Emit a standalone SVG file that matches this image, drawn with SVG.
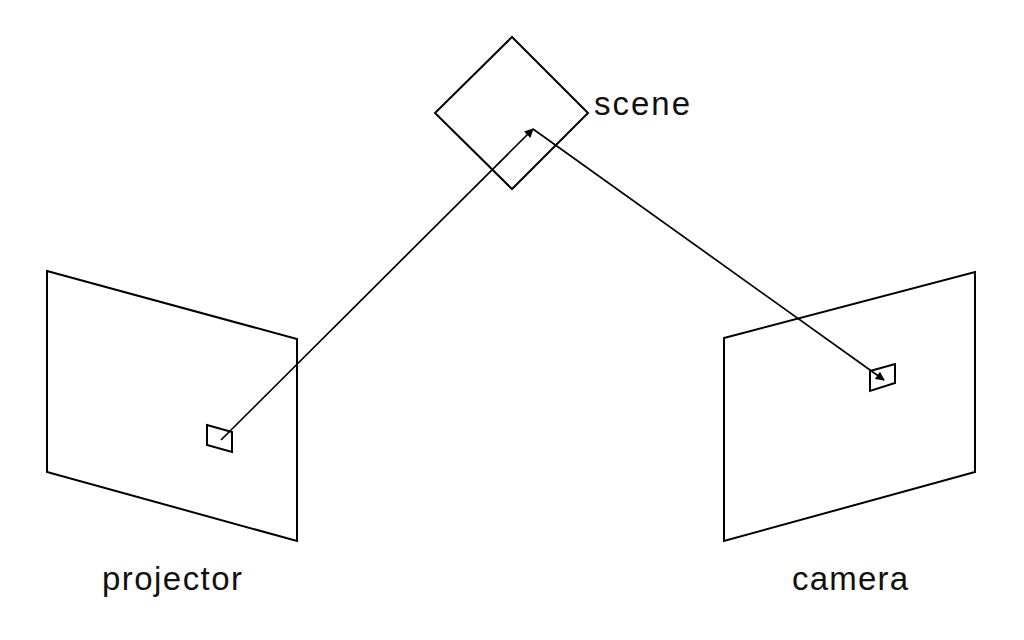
<svg xmlns="http://www.w3.org/2000/svg" width="1024" height="640" viewBox="0 0 1024 640">
<style>
.s{fill:none;stroke:#000;stroke-width:2;stroke-linejoin:miter}
.c{fill:none;stroke:#000;stroke-width:1.7}
.t{font-family:"Liberation Sans",Arial,sans-serif;font-size:33px;fill:#111}
</style>
<defs>
<marker id="ah" viewBox="0 0 10 10" refX="9" refY="5" markerWidth="10" markerHeight="9" orient="auto" markerUnits="userSpaceOnUse">
<path d="M0,0 L10,5 L0,10 z" fill="#000"/>
</marker>
</defs>
<rect width="1024" height="640" fill="#fff"/>
<g id="scene">
<polygon class="s" points="512,37 588,113 512,189 435,113"/>
<text class="t" x="594" y="115" textLength="96" lengthAdjust="spacing">scene</text>
</g>
<g id="projector">
<polygon class="s" points="47,271 297,339 297,541 47,472"/>
<polygon class="s" points="207,425 232,432 232,452 207,445"/>
<text class="t" x="102" y="590" textLength="140" lengthAdjust="spacing">projector</text>
</g>
<g id="camera">
<polygon class="s" points="724,338 975,272 975,472 724,541"/>
<polygon class="s" points="870,371 895,364 895,383 870,391"/>
<text class="t" x="792" y="590" textLength="116" lengthAdjust="spacing">camera</text>
</g>
<g id="connectors">
<line class="c" x1="221" y1="440" x2="533" y2="129" marker-end="url(#ah)"/>
<line class="c" x1="533" y1="129" x2="884" y2="380" marker-end="url(#ah)"/>
</g>
</svg>
